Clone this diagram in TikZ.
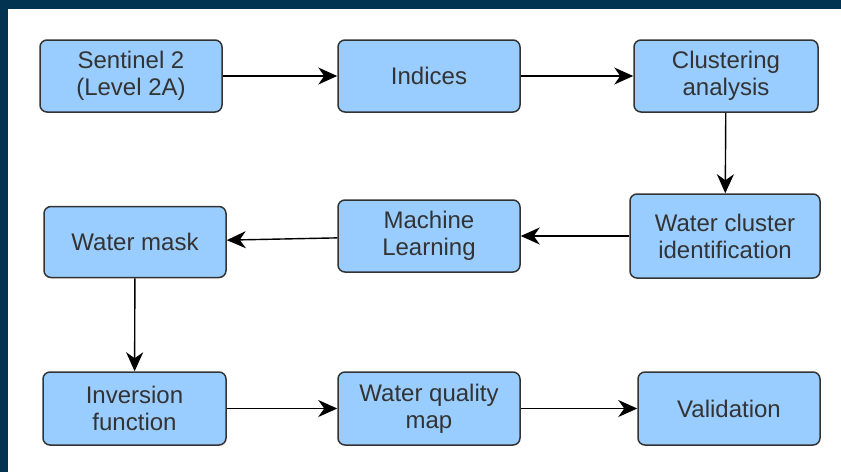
\documentclass[tikz,border=0pt]{standalone}
\usepackage{fontspec}
\setmainfont{Liberation Sans}
\usetikzlibrary{arrows.meta}
\definecolor{boxfill}{HTML}{99CCFF}
\definecolor{boxline}{HTML}{333333}
\definecolor{frame}{HTML}{023350}
\begin{document}
\begin{tikzpicture}[x=1pt, y=-1pt,
    stepbox/.style={draw=boxline, fill=boxfill, line width=1.5pt, rounded corners=7pt,
        inner sep=0pt, text=boxline, align=center,
        font=\fontsize{24}{27}\selectfont},
    flow/.style={line width=1.4pt, -{Stealth[length=19pt, width=17pt, inset=6pt]}}]
    % frame
    \fill[white] (0,0) rectangle (841,472);
    \fill[frame] (0,0) rectangle (841,9);
    \fill[frame] (0,0) rectangle (8,472);
    % row 1
    \node[stepbox, minimum width=182pt, minimum height=72pt] (sent) at (131,76) {Sentinel 2\\(Level 2A)};
    \node[stepbox, minimum width=182pt, minimum height=72pt] (ind) at (429,76) {Indices};
    \node[stepbox, minimum width=184pt, minimum height=72pt] (clus) at (726,76) {Clustering\\analysis};
    % row 2
    \node[stepbox, minimum width=182pt, minimum height=71pt] (mask) at (135,242) {Water mask};
    \node[stepbox, minimum width=182pt, minimum height=72pt] (ml) at (429,236) {Machine\\Learning};
    \node[stepbox, minimum width=190pt, minimum height=84pt] (wc) at (725,236) {Water cluster\\identification};
    % row 3
    \node[stepbox, minimum width=183pt, minimum height=73pt] (inv) at (134.5,408.5) {Inversion\\function};
    \node[stepbox, minimum width=182pt, minimum height=73pt] (wqm) at (429,408.5) {Water quality\\map};
    \node[stepbox, minimum width=182pt, minimum height=73pt] (val) at (729,408.5) {Validation};
    % arrows
    \foreach \a/\b in {sent/ind, ind/clus, clus/wc, wc/ml, ml/mask, mask/inv, inv/wqm, wqm/val}{
        \draw[flow] (\a) -- (\b);
    }
\end{tikzpicture}
\end{document}
